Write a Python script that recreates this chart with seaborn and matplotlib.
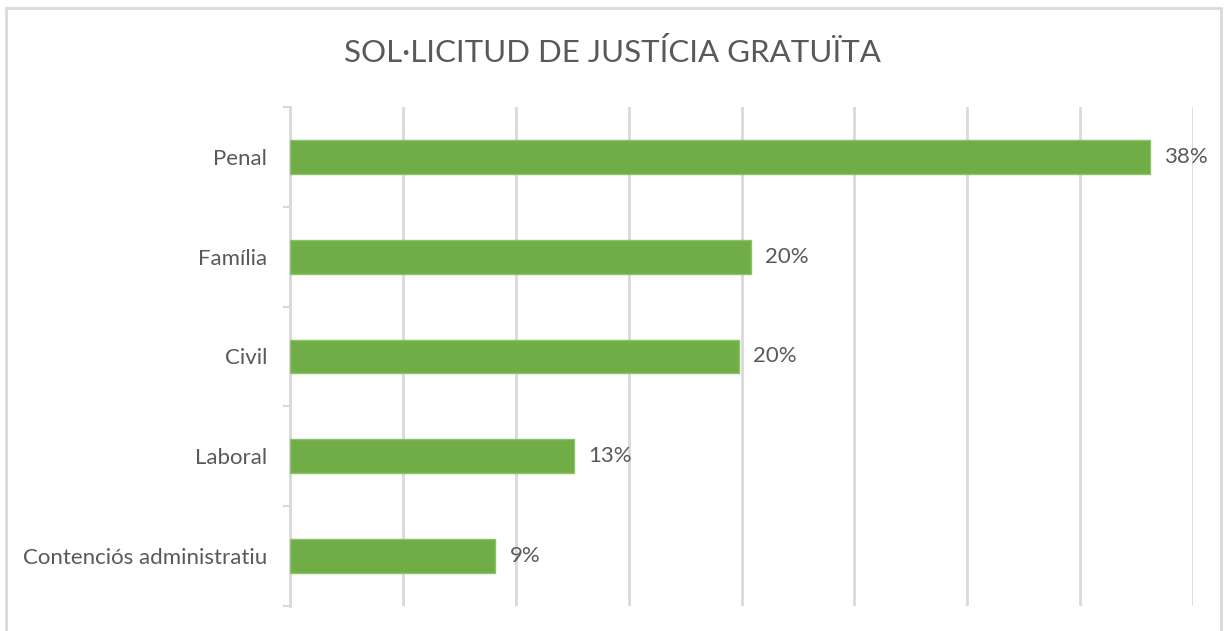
import matplotlib
matplotlib.use("Agg")
import matplotlib.pyplot as plt
import seaborn as sns
from matplotlib.lines import Line2D

# data (percent)
categories = ["Penal", "Família", "Civil", "Laboral", "Contenciós administratiu"]
values = [38.1, 20.4, 19.9, 12.6, 9.1]
title = "SOL·LICITUD DE JUSTÍCIA GRATUÏTA"

sns.set_style("white")
plt.rcParams["font.family"] = ["Lato", "DejaVu Sans"]

W, H = 1225, 631
fig = plt.figure(figsize=(W / 100, H / 100), dpi=100)
ax = fig.add_axes([290 / W, 1 - 606 / H, (1193 - 290) / W, (606 - 107) / H])

green = "#70AD47"
grey_line = "#D9D9D9"
text_col = "#595959"

sns.barplot(x=values, y=categories, orient="h", color=green, width=0.34,
            edgecolor="#8CC26A", linewidth=1, saturation=1, ax=ax, zorder=3)

ax.set_xlim(0, 40)
ax.set_ylim(4.5, -0.5)
ax.set_xticks(range(0, 41, 5))
ax.set_xticklabels([])
ax.tick_params(axis="x", length=0)
ax.xaxis.grid(True, color=grey_line, linewidth=2)
ax.set_axisbelow(True)

ax.set_yticks(range(len(categories)))
ax.set_yticklabels(categories, fontsize=16, color=text_col)
ax.set_yticks([i - 0.5 for i in range(len(categories) + 1)], minor=True)
ax.tick_params(axis="y", which="major", left=False, length=0, pad=16.5)
ax.tick_params(axis="y", which="minor", left=True, length=5, width=1.5, color=grey_line)
ax.set_xlabel("")
ax.set_ylabel("")

for s in ["top", "right", "bottom"]:
    ax.spines[s].set_visible(False)
ax.spines["left"].set_color(grey_line)
ax.spines["left"].set_linewidth(2)

for i, v in enumerate(values):
    ax.text(v + 0.62, i, f"{v:.0f}%", va="center", ha="left",
            fontsize=16, color=text_col)

fig.text(0.5, 1 - 53 / H, title, ha="center", va="center",
         fontsize=22.5, color=text_col)

# outer chart border (bottom is cut off in the reference)
bx0, bx1, by = 6 / W, 1221 / W, 1 - 8 / H
for xs, ys in [([bx0, bx0], [0, by]), ([bx0, bx1], [by, by]), ([bx1, bx1], [by, 0])]:
    fig.add_artist(Line2D(xs, ys, color=grey_line, linewidth=2, transform=fig.transFigure))

fig.savefig("out.png", dpi=100, facecolor="white")
